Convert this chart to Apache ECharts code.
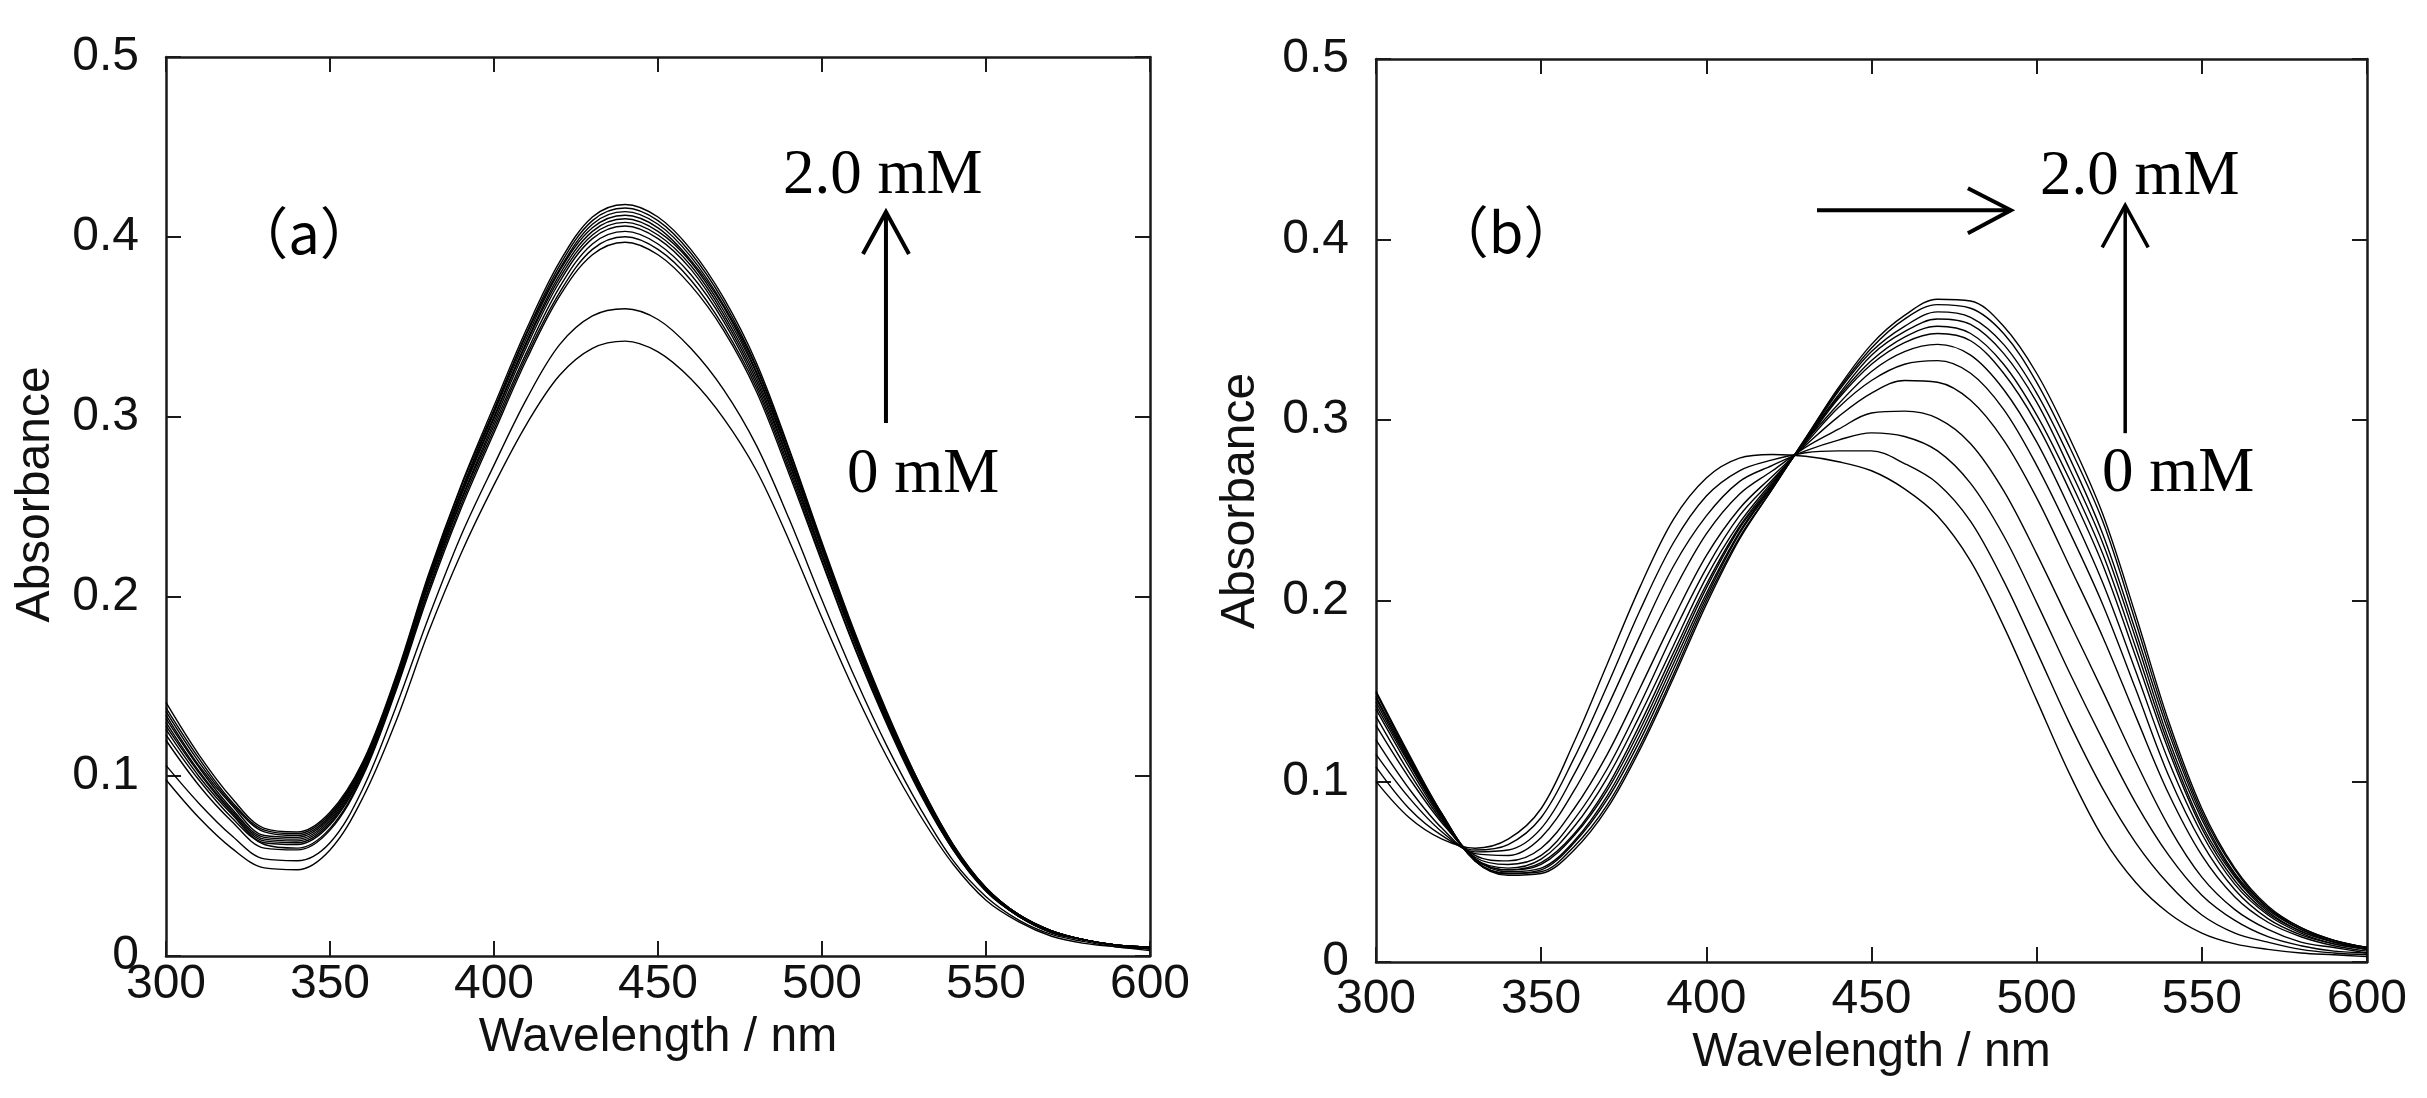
<!DOCTYPE html>
<html><head><meta charset="utf-8">
<script src="https://cdn.jsdelivr.net/npm/echarts@6/dist/echarts.min.js"></script>
<style>html,body{margin:0;padding:0;background:#fff}#c{width:2427px;height:1098px}</style>
</head><body><div id="c"></div>
<script>
// Wavelength grid (nm)
const wavelength = [300,310,320,330,340,350,360,370,380,390,400,410,420,430,440,450,460,470,480,490,500,510,520,530,540,550,560,570,580,590,600];

// Panel (a) spectra, 0 mM (a0) ... 2.0 mM (a11)
const a0  = [0.098,0.077,0.060,0.049,0.048,0.059,0.088,0.130,0.180,0.224,0.262,0.296,0.323,0.338,0.342,0.336,0.321,0.299,0.270,0.231,0.188,0.147,0.110,0.078,0.051,0.031,0.019,0.011,0.007,0.005,0.003];
const a1  = [0.106,0.085,0.067,0.054,0.053,0.063,0.093,0.138,0.188,0.234,0.273,0.310,0.340,0.356,0.360,0.354,0.338,0.315,0.284,0.243,0.198,0.155,0.116,0.082,0.053,0.033,0.020,0.012,0.008,0.005,0.004];
const a2  = [0.120,0.095,0.075,0.060,0.059,0.070,0.100,0.147,0.201,0.249,0.291,0.332,0.367,0.390,0.397,0.390,0.373,0.348,0.314,0.268,0.219,0.171,0.128,0.090,0.059,0.036,0.022,0.013,0.009,0.006,0.004];
const a3  = [0.123,0.098,0.077,0.062,0.060,0.071,0.101,0.148,0.203,0.251,0.293,0.334,0.369,0.393,0.400,0.393,0.376,0.350,0.316,0.270,0.220,0.172,0.129,0.091,0.059,0.036,0.022,0.013,0.009,0.006,0.004];
const a4  = [0.126,0.100,0.079,0.063,0.062,0.073,0.102,0.149,0.204,0.253,0.295,0.336,0.372,0.396,0.403,0.396,0.379,0.353,0.318,0.272,0.222,0.174,0.130,0.092,0.060,0.037,0.022,0.013,0.009,0.006,0.004];
const a5  = [0.128,0.102,0.080,0.064,0.063,0.074,0.103,0.150,0.206,0.254,0.297,0.339,0.375,0.399,0.406,0.399,0.382,0.355,0.320,0.274,0.223,0.175,0.131,0.092,0.060,0.037,0.022,0.014,0.009,0.006,0.005];
const a6  = [0.130,0.103,0.081,0.065,0.064,0.075,0.104,0.151,0.207,0.256,0.299,0.341,0.377,0.401,0.408,0.401,0.384,0.357,0.322,0.275,0.224,0.176,0.132,0.093,0.061,0.037,0.022,0.014,0.009,0.006,0.005];
const a7  = [0.132,0.105,0.082,0.066,0.065,0.076,0.105,0.152,0.208,0.257,0.300,0.342,0.379,0.403,0.410,0.403,0.386,0.359,0.324,0.277,0.226,0.177,0.132,0.093,0.061,0.037,0.023,0.014,0.009,0.006,0.005];
const a8  = [0.134,0.106,0.084,0.067,0.066,0.077,0.106,0.153,0.209,0.258,0.302,0.344,0.381,0.405,0.412,0.405,0.387,0.361,0.325,0.278,0.227,0.177,0.133,0.094,0.061,0.037,0.023,0.014,0.009,0.006,0.005];
const a9  = [0.136,0.108,0.085,0.069,0.067,0.078,0.107,0.153,0.210,0.259,0.303,0.346,0.382,0.407,0.414,0.407,0.389,0.362,0.327,0.279,0.228,0.178,0.134,0.094,0.061,0.038,0.023,0.014,0.009,0.006,0.005];
const a10 = [0.138,0.110,0.086,0.070,0.068,0.079,0.107,0.154,0.211,0.261,0.304,0.347,0.384,0.409,0.416,0.409,0.391,0.364,0.328,0.281,0.229,0.179,0.134,0.095,0.062,0.038,0.023,0.014,0.009,0.006,0.005];
const a11 = [0.141,0.112,0.088,0.071,0.069,0.080,0.108,0.155,0.212,0.262,0.306,0.349,0.386,0.411,0.418,0.411,0.393,0.366,0.330,0.282,0.230,0.180,0.135,0.095,0.062,0.038,0.023,0.014,0.009,0.006,0.005];

// Panel (b) spectra, 0 mM (b0) ... 2.0 mM (b12)
const b0  = [0.100,0.080,0.068,0.063,0.068,0.085,0.122,0.165,0.208,0.245,0.268,0.279,0.281,0.280,0.277,0.272,0.262,0.247,0.222,0.186,0.145,0.104,0.069,0.044,0.027,0.016,0.010,0.007,0.005,0.004,0.003];
const b1  = [0.108,0.085,0.070,0.062,0.065,0.080,0.113,0.153,0.195,0.232,0.258,0.272,0.278,0.282,0.283,0.283,0.276,0.265,0.244,0.211,0.172,0.132,0.096,0.066,0.043,0.026,0.016,0.011,0.007,0.005,0.004];
const b2  = [0.115,0.091,0.072,0.061,0.062,0.074,0.104,0.141,0.181,0.219,0.247,0.266,0.275,0.283,0.289,0.293,0.291,0.283,0.265,0.236,0.199,0.160,0.123,0.088,0.059,0.037,0.023,0.014,0.009,0.006,0.005];
const b3  = [0.123,0.096,0.074,0.060,0.059,0.069,0.095,0.129,0.168,0.205,0.237,0.259,0.272,0.285,0.295,0.304,0.305,0.301,0.287,0.261,0.226,0.188,0.150,0.111,0.075,0.047,0.029,0.018,0.011,0.008,0.005];
const b4  = [0.131,0.102,0.077,0.059,0.056,0.063,0.085,0.115,0.152,0.190,0.225,0.251,0.269,0.286,0.302,0.315,0.322,0.321,0.311,0.289,0.257,0.219,0.180,0.136,0.093,0.059,0.036,0.022,0.014,0.009,0.006];
const b5  = [0.136,0.105,0.078,0.058,0.054,0.059,0.079,0.107,0.143,0.182,0.218,0.247,0.267,0.287,0.307,0.322,0.331,0.333,0.326,0.306,0.275,0.238,0.198,0.151,0.103,0.066,0.040,0.024,0.015,0.010,0.007];
const b6  = [0.140,0.108,0.079,0.057,0.052,0.057,0.075,0.102,0.137,0.175,0.213,0.243,0.266,0.288,0.309,0.327,0.338,0.342,0.336,0.317,0.288,0.251,0.210,0.161,0.111,0.071,0.043,0.026,0.016,0.010,0.007];
const b7  = [0.142,0.110,0.080,0.057,0.051,0.055,0.071,0.097,0.132,0.171,0.209,0.241,0.265,0.288,0.312,0.331,0.343,0.348,0.344,0.326,0.298,0.261,0.220,0.169,0.117,0.074,0.045,0.027,0.017,0.011,0.007];
const b8  = [0.144,0.111,0.080,0.057,0.051,0.054,0.070,0.095,0.129,0.168,0.207,0.240,0.264,0.289,0.313,0.333,0.346,0.352,0.348,0.331,0.303,0.267,0.226,0.174,0.120,0.076,0.047,0.028,0.017,0.011,0.007];
const b9  = [0.146,0.112,0.081,0.057,0.050,0.052,0.067,0.092,0.126,0.165,0.204,0.238,0.264,0.289,0.314,0.336,0.349,0.356,0.353,0.337,0.310,0.273,0.232,0.179,0.123,0.079,0.048,0.029,0.018,0.011,0.008];
const b10 = [0.147,0.113,0.081,0.056,0.049,0.051,0.066,0.090,0.123,0.162,0.202,0.237,0.263,0.289,0.316,0.338,0.352,0.360,0.357,0.342,0.315,0.279,0.237,0.183,0.127,0.081,0.049,0.030,0.018,0.012,0.008];
const b11 = [0.149,0.114,0.082,0.056,0.049,0.050,0.064,0.087,0.120,0.159,0.200,0.235,0.262,0.290,0.317,0.340,0.356,0.364,0.362,0.348,0.321,0.285,0.244,0.188,0.130,0.083,0.051,0.030,0.019,0.012,0.008];
const b12 = [0.150,0.115,0.082,0.056,0.048,0.049,0.062,0.085,0.118,0.157,0.198,0.234,0.262,0.290,0.318,0.342,0.358,0.367,0.366,0.352,0.326,0.290,0.248,0.192,0.133,0.085,0.052,0.031,0.019,0.012,0.008];

// Axis ranges / ticks
const xRange = [300, 600]; const xStep = 50;
const yRange = [0, 0.5];   const yStep = 0.1;

// Annotation texts
const labelHigh = '2.0 mM';
const labelLow = '0 mM';
const tagA = '（a）';
const tagB = '（b）';

const panelA = [a0,a1,a2,a3,a4,a5,a6,a7,a8,a9,a10,a11];
const panelB = [b0,b1,b2,b3,b4,b5,b6,b7,b8,b9,b10,b11,b12];

const FONT = "'Liberation Sans', Arial, sans-serif";
const SERIF = "'Liberation Serif', 'Times New Roman', serif";
const AX = '#1a1a1a';

function pairs(arr){ return wavelength.map((w,i)=>[w, arr[i]]); }

function xAxesFor(gi, labelMargin, nameGap){
  const common = {type:'value', gridIndex:gi, min:xRange[0], max:xRange[1], interval:xStep,
    axisLine:{show:true, onZero:false, lineStyle:{color:AX, width:2.5}},
    axisTick:{show:true, inside:true, length:15, lineStyle:{color:AX, width:2}},
    splitLine:{show:false}};
  return [
    Object.assign({}, common, {position:'bottom', name:'Wavelength / nm', nameLocation:'middle', nameGap:nameGap,
      nameTextStyle:{fontFamily:FONT, fontSize:48, color:'#111'},
      axisLabel:{show:true, margin:labelMargin, fontFamily:FONT, fontSize:48, color:'#111', showMinLabel:true, showMaxLabel:true}}),
    Object.assign({}, common, {position:'top', axisLabel:{show:false}})
  ];
}
function yAxesFor(gi, nameGap, namePad){
  const common = {type:'value', gridIndex:gi, min:yRange[0], max:yRange[1], interval:yStep,
    axisLine:{show:true, onZero:false, lineStyle:{color:AX, width:2.5}},
    axisTick:{show:true, inside:true, length:15, lineStyle:{color:AX, width:2}},
    splitLine:{show:false}};
  return [
    Object.assign({}, common, {position:'left', name:'Absorbance', nameLocation:'middle', nameGap:nameGap, nameRotate:90,
      nameTextStyle:{fontFamily:FONT, fontSize:48, color:'#111', padding:[0,0,0,namePad]},
      axisLabel:{show:true, margin:27, fontFamily:FONT, fontSize:48, color:'#111', padding:[0,0,16,0], showMinLabel:true, showMaxLabel:true}}),
    Object.assign({}, common, {position:'right', axisLabel:{show:false}})
  ];
}

const series = [];
panelA.forEach((arr)=>series.push({type:'line', xAxisIndex:0, yAxisIndex:0, data:pairs(arr), smooth:0.35,
  showSymbol:false, silent:true, lineStyle:{color:'#000', width:1.4}}));
panelB.forEach((arr)=>series.push({type:'line', xAxisIndex:2, yAxisIndex:2, data:pairs(arr), smooth:0.35,
  showSymbol:false, silent:true, lineStyle:{color:'#000', width:1.4}}));

const chart = echarts.init(document.getElementById('c'));
chart.setOption({
  backgroundColor:'#fff',
  animation:false,
  grid:[
    {left:166, top:57, width:984, height:899},
    {left:1376, top:59, width:991, height:903}
  ],
  xAxis: xAxesFor(0, 5, 37).concat(xAxesFor(1, 14, 64)),
  yAxis: yAxesFor(0, 106, 24).concat(yAxesFor(1, 111, 19)),
  series: series
});

// Annotation anchor positions in data coordinates
const annA = {tail:[519.5,0.2964], tip:[519.5,0.4138], high:[488.1,0.4338], low:[507.6,0.2670], tag:[342.1,0.4021]};
const annB = {tail:[526.8,0.2928], tip:[526.8,0.4190], hTail:[433.5,0.4162], hTip:[492.2,0.4162], high:[501.0,0.4345], low:[519.8,0.2701], tag:[339.4,0.4041]};

function px(gi, p){ return chart.convertToPixel({xAxisIndex: gi*2, yAxisIndex: gi*2}, p); }
function vArrow(t, h, w){
  return [
    {type:'polyline', shape:{points:[t,h]}, style:{stroke:'#000', lineWidth:w, fill:null}},
    {type:'polyline', shape:{points:[[h[0]-23,h[1]+42],h,[h[0]+23,h[1]+42]]}, style:{stroke:'#000', lineWidth:w, fill:null, lineJoin:'miter'}}
  ];
}
function hArrow(t, h, w){
  return [
    {type:'polyline', shape:{points:[t,h]}, style:{stroke:'#000', lineWidth:w, fill:null}},
    {type:'polyline', shape:{points:[[h[0]-43,h[1]-22],h,[h[0]-43,h[1]+23]]}, style:{stroke:'#000', lineWidth:w, fill:null, lineJoin:'miter'}}
  ];
}
function txt(p, s, font, align){
  return {type:'text', x:p[0], y:p[1], style:{text:s, font:font, fill:'#000',
    textAlign:align, align:align, textVerticalAlign:'middle', verticalAlign:'middle'}};
}
const g = [];
g.push(...vArrow(px(0,annA.tail), px(0,annA.tip), 4));
g.push(txt(px(0,annA.high), labelHigh, '63px ' + SERIF, 'left'));
g.push(txt(px(0,annA.low), labelLow, '63px ' + SERIF, 'left'));
g.push(txt(px(0,annA.tag), tagA, "56px 'Noto Sans CJK JP', " + FONT, 'center'));
g.push(...vArrow(px(1,annB.tail), px(1,annB.tip), 3.5));
g.push(...hArrow(px(1,annB.hTail), px(1,annB.hTip), 4));
g.push(txt(px(1,annB.high), labelHigh, '63px ' + SERIF, 'left'));
g.push(txt(px(1,annB.low), labelLow, '63px ' + SERIF, 'left'));
g.push(txt(px(1,annB.tag), tagB, "56px 'Noto Sans CJK JP', " + FONT, 'center'));
chart.setOption({graphic: g});
</script>
</body></html>
